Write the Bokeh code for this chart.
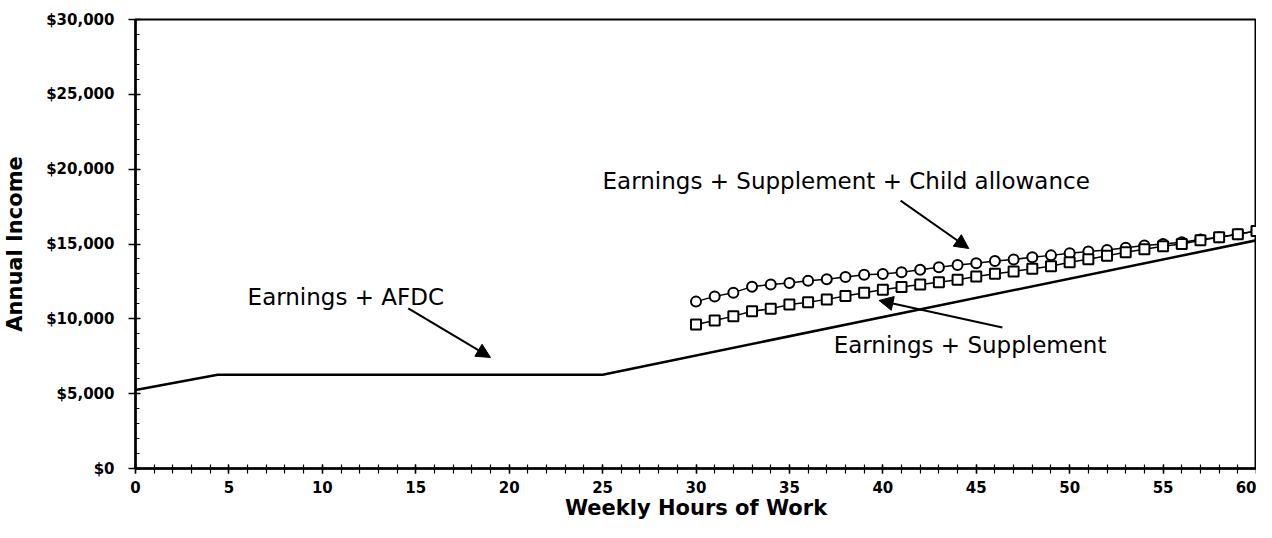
from bokeh.plotting import figure
from bokeh.models import (NumeralTickFormatter, FixedTicker, Arrow, NormalHead,
                          Range1d, ColumnDataSource, Label)
from bokeh.embed import file_html
from bokeh.resources import INLINE

# ---- data ----
afdc_hours = [0, 4.4, 25, 60]
afdc_income = [5250, 6270, 6270, 15250]

supp_hours = list(range(30, 61))
supp_child_income = [11150, 11500, 11750, 12150, 12300, 12400, 12550, 12650, 12800, 12950,
                     13000, 13120, 13280, 13450, 13600, 13720, 13860, 13970, 14120, 14240,
                     14380, 14500, 14600, 14750, 14900, 15000, 15120, 15300, 15450, 15650,
                     15870]
supp_income = [9620, 9890, 10180, 10500, 10680, 10950, 11110, 11300, 11520, 11740,
               11950, 12120, 12300, 12450, 12610, 12830, 13010, 13170, 13350, 13520,
               13780, 13980, 14220, 14450, 14650, 14850, 15000, 15250, 15450, 15650,
               15870]

x_ticks = list(range(0, 61, 5))
y_ticks = list(range(0, 30001, 5000))

FONT = "DejaVu Sans"

p = figure(width=1256, height=522, output_backend="svg", toolbar_location=None,
           x_range=Range1d(0, 60), y_range=Range1d(0, 30000),
           min_border_left=135, min_border_right=0, min_border_top=19,
           min_border_bottom=54)
p.grid.visible = False
p.outline_line_color = "black"
p.outline_line_width = 2
p.background_fill_color = "white"
p.border_fill_color = "white"

# axes
p.xaxis.ticker = FixedTicker(ticks=x_ticks, minor_ticks=list(range(0, 61)))
p.yaxis.ticker = FixedTicker(ticks=y_ticks, minor_ticks=list(range(0, 30001, 1000)))
p.yaxis.formatter = NumeralTickFormatter(format="$0,0")
for ax in (p.xaxis, p.yaxis):
    ax.axis_line_width = 2.5
    ax.axis_line_color = "black"
    ax.major_tick_line_color = "black"
    ax.minor_tick_line_color = "black"
    ax.major_tick_line_width = 1.5
    ax.minor_tick_line_width = 1.2
    ax.major_label_text_font = FONT
    ax.major_label_text_font_style = "bold"
    ax.major_label_text_font_size = "15px"
    ax.major_label_text_color = "black"
    ax.axis_label_text_font = FONT
    ax.axis_label_text_font_style = "bold"
    ax.axis_label_text_font_size = "21px"
    ax.axis_label_text_color = "black"

p.xaxis.major_tick_in = 4
p.xaxis.major_tick_out = 5
p.xaxis.minor_tick_in = 4
p.xaxis.minor_tick_out = 5
p.xaxis.major_label_standoff = 7
p.xaxis.axis_label = "Weekly Hours of Work"
p.xaxis.axis_label_standoff = 0

p.yaxis.major_tick_in = 5
p.yaxis.major_tick_out = 7
p.yaxis.minor_tick_in = 4
p.yaxis.minor_tick_out = 0
p.yaxis.major_label_standoff = 14
p.yaxis.axis_label = "Annual Income"
p.yaxis.axis_label_standoff = 16

# lines
p.line(afdc_hours, afdc_income, line_color="black", line_width=2.5)

src_c = ColumnDataSource(dict(x=supp_hours, y=supp_child_income))
src_s = ColumnDataSource(dict(x=supp_hours, y=supp_income))
p.line("x", "y", source=src_c, line_color="black", line_width=1.5)
p.scatter("x", "y", source=src_c, marker="circle", size=10, fill_color="white",
          line_color="black", line_width=2)
p.line("x", "y", source=src_s, line_color="black", line_width=1.5)
p.scatter("x", "y", source=src_s, marker="square", size=10, fill_color="white",
          line_color="black", line_width=2)

# annotations
labels = [
    ("Earnings + AFDC", 6.0, 11430),
    ("Earnings + Supplement + Child allowance", 25.0, 19235),
    ("Earnings + Supplement", 37.37, 8225),
]
for txt, lx, ly in labels:
    p.add_layout(Label(x=lx, y=ly, text=txt, text_font=FONT, text_font_size="23px",
                       text_color="black", text_baseline="alphabetic", text_align="left"))

arrows = [
    (14.6, 10700, 19.0, 7420),
    (40.95, 17900, 44.6, 14700),
    (46.4, 9420, 39.8, 11230),
]
for x0, y0, x1, y1 in arrows:
    p.add_layout(Arrow(x_start=x0, y_start=y0, x_end=x1, y_end=y1,
                       line_color="black", line_width=2,
                       end=NormalHead(size=14, fill_color="black", line_color="black")))

open("out.html", "w").write(file_html(p, INLINE))
